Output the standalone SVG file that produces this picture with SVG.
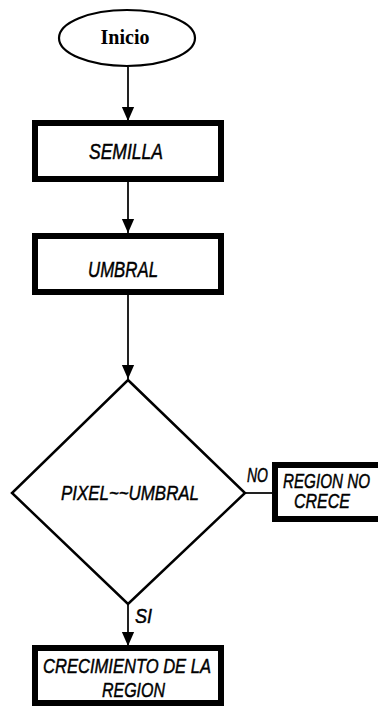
<svg xmlns="http://www.w3.org/2000/svg" width="378" height="708" viewBox="0 0 378 708">
<style>
.lbl{font-family:"Liberation Sans Narrow","Liberation Sans",Arial,sans-serif;font-style:italic;fill:#000;stroke:#000;stroke-width:0.45}
.box{fill:#fff;stroke:#000;stroke-width:6}
.con{fill:none;stroke:#222;stroke-width:2}
</style>
<defs>
<marker id="ah" markerUnits="userSpaceOnUse" markerWidth="14" markerHeight="17" refX="16" refY="7" viewBox="0 0 16 14" orient="auto">
<path d="M0,0 L16,7 L0,14 Z" fill="#000"/>
</marker>
</defs>
<rect width="378" height="708" fill="#fff"/>
<g id="connectors">
<line class="con" x1="128" y1="67" x2="128" y2="121" marker-end="url(#ah)"/>
<line class="con" x1="128" y1="182" x2="128" y2="233" marker-end="url(#ah)"/>
<line class="con" x1="128" y1="295" x2="128" y2="379" marker-end="url(#ah)"/>
<line class="con" x1="245" y1="493" x2="273" y2="493"/>
<line class="con" x1="128" y1="604" x2="128" y2="646" marker-end="url(#ah)"/>
<text class="lbl" x="247" y="482" font-size="20" textLength="21" lengthAdjust="spacingAndGlyphs">NO</text>
<text class="lbl" x="135" y="623" font-size="20" textLength="17" lengthAdjust="spacingAndGlyphs">SI</text>
</g>
<g id="inicio">
<ellipse cx="127" cy="38" rx="68" ry="28" fill="#fff" stroke="#000" stroke-width="2.2"/>
<text x="125" y="44" font-family="Liberation Serif,'Times New Roman',serif" font-weight="bold" font-size="20" text-anchor="middle">Inicio</text>
</g>
<g id="semilla">
<rect class="box" x="35" y="123" width="186" height="56"/>
<text class="lbl" x="89" y="159" font-size="22" textLength="74" lengthAdjust="spacingAndGlyphs">SEMILLA</text>
</g>
<g id="umbral">
<rect class="box" x="35" y="236" width="186" height="56"/>
<text class="lbl" x="88" y="277" font-size="22" textLength="70" lengthAdjust="spacingAndGlyphs">UMBRAL</text>
</g>
<g id="decision">
<polygon points="128,380 245,493 128,604 12,493" fill="#fff" stroke="#000" stroke-width="2.5" stroke-linejoin="miter"/>
<text class="lbl" x="61" y="500" font-size="21" textLength="138" lengthAdjust="spacingAndGlyphs">PIXEL~~UMBRAL</text>
</g>
<g id="region-no-crece">
<rect class="box" x="275" y="465" width="120" height="54" stroke-width="5"/>
<text class="lbl" x="283" y="488" font-size="20" textLength="87" lengthAdjust="spacingAndGlyphs">REGION NO</text>
<text class="lbl" x="294" y="508" font-size="20" textLength="56" lengthAdjust="spacingAndGlyphs">CRECE</text>
</g>
<g id="crecimiento">
<rect class="box" x="35" y="648" width="186" height="55"/>
<text class="lbl" x="43" y="673" font-size="20" textLength="168" lengthAdjust="spacingAndGlyphs">CRECIMIENTO DE LA</text>
<text class="lbl" x="102" y="697" font-size="20" textLength="63" lengthAdjust="spacingAndGlyphs">REGION</text>
</g>
</svg>
